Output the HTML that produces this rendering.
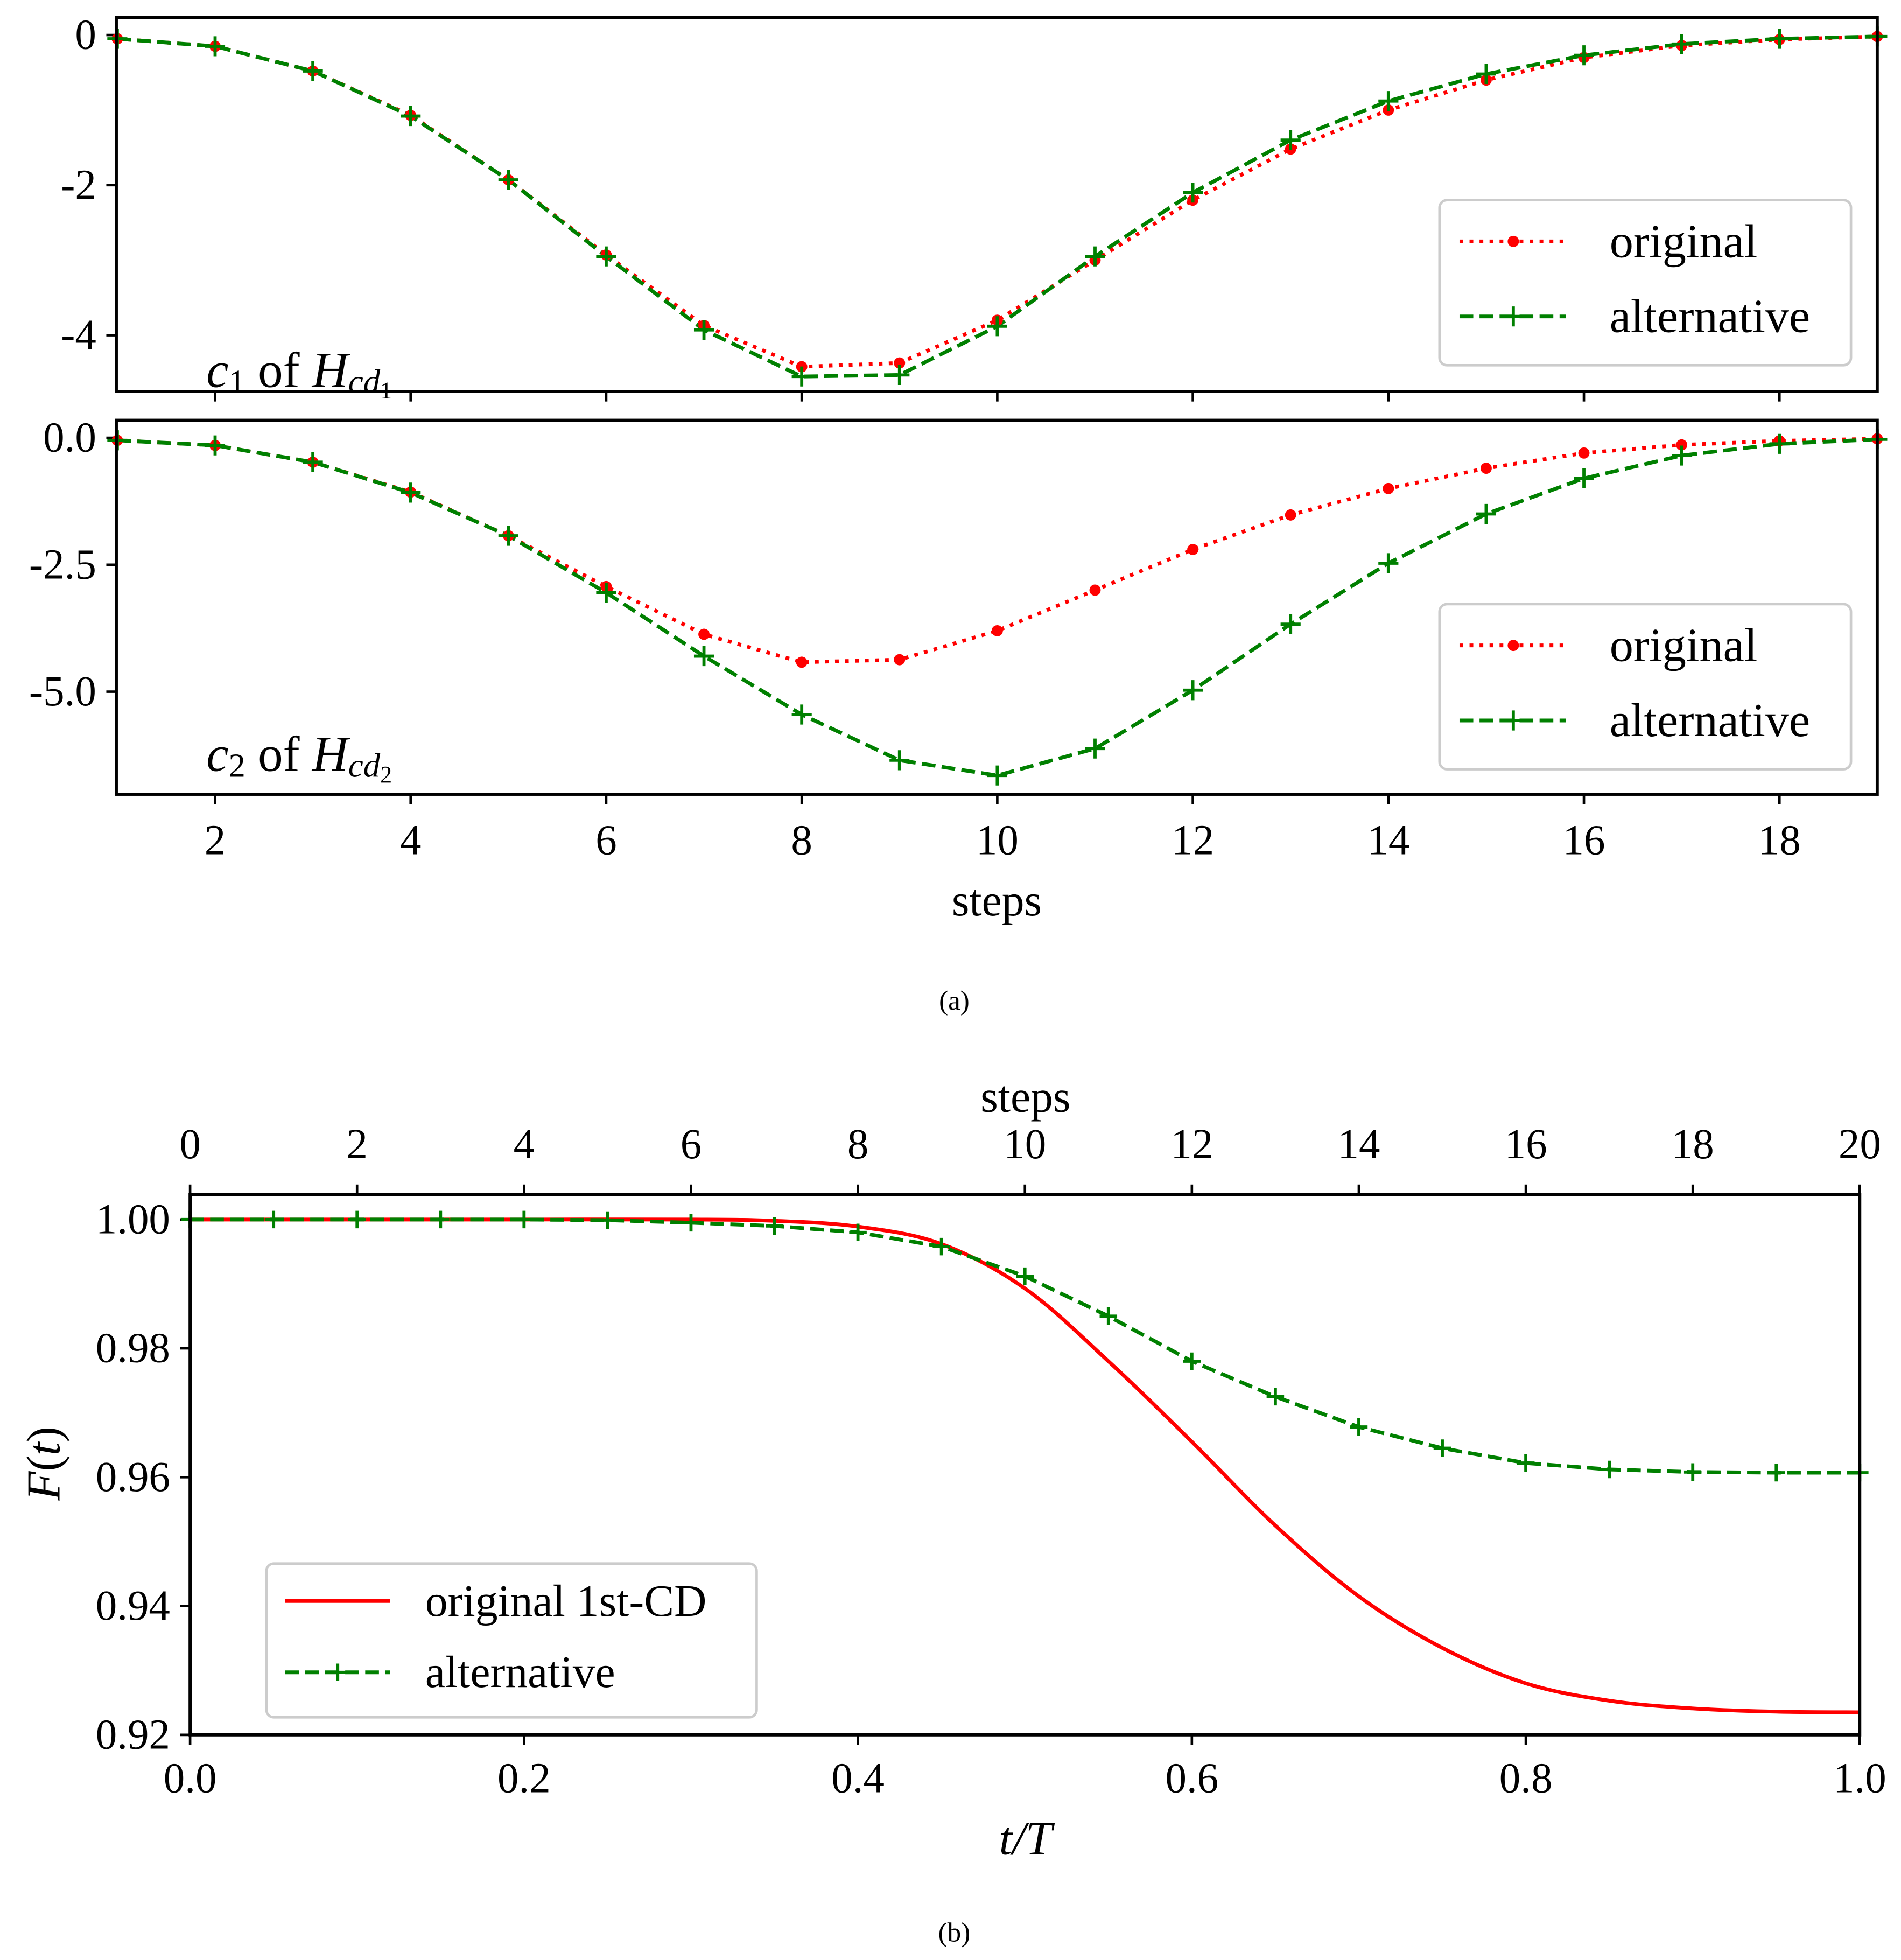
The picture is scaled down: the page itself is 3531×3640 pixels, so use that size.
<!DOCTYPE html>
<html><head><meta charset="utf-8"><style>html,body{margin:0;padding:0;background:#fff}svg{display:block}text{font-family:"Liberation Serif",serif;fill:#000}</style></head>
<body>
<svg id="chart" xmlns="http://www.w3.org/2000/svg" width="3531" height="3640" viewBox="0 0 1520 1567" preserveAspectRatio="none">
<g id="g"></g>
</svg>
<script>
const steps=[1,2,3,4,5,6,7,8,9,10,11,12,13,14,15,16,17,18,19];
const orig=[-0.05,-0.15,-0.48,-1.07,-1.93,-2.93,-3.87,-4.42,-4.37,-3.8,-3.0,-2.2,-1.52,-1.0,-0.6,-0.3,-0.14,-0.06,-0.02];
const alt1=[-0.05,-0.15,-0.48,-1.08,-1.93,-2.95,-3.93,-4.55,-4.53,-3.88,-2.95,-2.1,-1.4,-0.88,-0.52,-0.27,-0.12,-0.05,-0.02];
const alt2=[-0.05,-0.15,-0.48,-1.08,-1.93,-3.05,-4.3,-5.45,-6.35,-6.65,-6.12,-4.97,-3.67,-2.47,-1.5,-0.8,-0.35,-0.12,-0.03];
const xTicksA=[2,4,6,8,10,12,14,16,18];
const yTicksA1=[0,-2,-4];const yLabA1=["0","-2","-4"];
const yTicksA2=[0,-2.5,-5];const yLabA2=["0.0","-2.5","-5.0"];
const tRed=[0,0.1,0.2,0.3,0.35,0.4,0.45,0.5,0.55,0.6,0.65,0.7,0.75,0.8,0.85,0.9,0.95,1.0];
const fRed=[1,1,1,1,0.9998,0.9989,0.9962,0.9893,0.978,0.9655,0.9525,0.9415,0.9335,0.928,0.9253,0.9241,0.9236,0.9235];
const tGreen=[0,0.05,0.1,0.15,0.2,0.25,0.3,0.35,0.4,0.45,0.5,0.55,0.6,0.65,0.7,0.75,0.8,0.85,0.9,0.95,1.0];
const fGreen=[1,1,1,1,1,0.9999,0.9995,0.999,0.998,0.9958,0.9912,0.985,0.978,0.9725,0.9678,0.9645,0.9622,0.9612,0.9608,0.9607,0.9607];
const xTicksB=[0,0.2,0.4,0.6,0.8,1.0];const xLabB=["0.0","0.2","0.4","0.6","0.8","1.0"];
const topTicksB=[0,2,4,6,8,10,12,14,16,18,20];
const yTicksB=[1.0,0.98,0.96,0.94,0.92];const yLabB=["1.00","0.98","0.96","0.94","0.92"];

const NS="http://www.w3.org/2000/svg";const G=document.getElementById('g');
function el(t,a,p){const e=document.createElementNS(NS,t);for(const k in a)e.setAttribute(k,a[k]);(p||G).appendChild(e);return e;}
function txt(s,x,y,size,anchor,name,extra){const e=el('text',Object.assign({x:x,y:y,'font-size':size,'text-anchor':anchor||'middle','dominant-baseline':'central'},extra||{}));e.textContent=s;return e;}
function lin(d0,d1,r0,r1){return v=>r0+(v-d0)/(d1-d0)*(r1-r0);}
function line(xs,ys,sx,sy,color,dash,name){const p=xs.map((x,i)=>sx(x).toFixed(2)+','+sy(ys[i]).toFixed(2)).join(' ');const e=el('polyline',{points:p,fill:'none',stroke:color,'stroke-width':3,'stroke-dasharray':dash||'none'});return e;}
function smooth(xs,ys,sx,sy,color,name){const P=xs.map((x,i)=>[sx(x),sy(ys[i])]);let d='M'+P[0][0]+','+P[0][1];
 for(let i=0;i<P.length-1;i++){const p0=P[Math.max(0,i-1)],p1=P[i],p2=P[i+1],p3=P[Math.min(P.length-1,i+2)];
  const c1=[p1[0]+(p2[0]-p0[0])/6,p1[1]+(p2[1]-p0[1])/6],c2=[p2[0]-(p3[0]-p1[0])/6,p2[1]-(p3[1]-p1[1])/6];
  d+=`C${c1[0].toFixed(2)},${c1[1].toFixed(2)} ${c2[0].toFixed(2)},${c2[1].toFixed(2)} ${p2[0].toFixed(2)},${p2[1].toFixed(2)}`;}
 const e=el('path',{d:d,fill:'none',stroke:color,'stroke-width':3});return e;}
function dots(xs,ys,sx,sy,name){xs.forEach((x,i)=>{const c=el('circle',{cx:sx(x),cy:sy(ys[i]),r:4.5,fill:'#ff0000'});});}
function plus(xs,ys,sx,sy,name,s){xs.forEach((x,i)=>{const X=sx(x),Y=sy(ys[i]);const p=el('path',{d:`M${X-s},${Y}H${X+s}M${X},${Y-s}V${Y+s}`,stroke:'#008000','stroke-width':2.5});});}
function legendA(y0,name){const g=el('g',{});
 el('rect',{x:1151,y:y0,width:329,height:132,rx:6,fill:'#fff',stroke:'#ccc','stroke-width':2},g);
 el('line',{x1:1167,y1:y0+33,x2:1252,y2:y0+33,stroke:'#ff0000','stroke-width':3,'stroke-dasharray':'3,5'},g);
 el('circle',{cx:1210,cy:y0+33,r:4.5,fill:'#ff0000'},g);
 el('line',{x1:1167,y1:y0+93,x2:1252,y2:y0+93,stroke:'#008000','stroke-width':3,'stroke-dasharray':'11,5'},g);
 el('path',{d:`M1202,${y0+93}H1218M1210,${y0+85}V${y0+101}`,stroke:'#008000','stroke-width':2.5},g);
 const a=txt('original',1287,y0+33,38,'start','legend-original');g.appendChild(a);
 const b=txt('alternative',1287,y0+93,38,'start','legend-alternative');g.appendChild(b);}

const sxA=lin(1,19,93.8,1501);
const sy1=lin(0,-4,28,268);
const sy2=lin(0,-5,350,553);
[[sy1,14,313,yTicksA1,yLabA1,alt1,'a1'],[sy2,336,635,yTicksA2,yLabA2,alt2,'a2']].forEach(([sy,top,bot,yt,yl,alt,id])=>{
 const clip=el('clipPath',{id:'c'+id});el('rect',{x:93,y:top,width:1408,height:bot-top},clip);
 xTicksA.forEach(t=>el('line',{x1:sxA(t),y1:bot,x2:sxA(t),y2:bot+8,stroke:'#000','stroke-width':2}));
 yt.forEach((t,i)=>{el('line',{x1:85,y1:sy(t),x2:93,y2:sy(t),stroke:'#000','stroke-width':2});txt(yl[i],77,sy(t),34,'end','y-tick-label-'+id);});
 const g=el('g',{'clip-path':`url(#c${id})`});
 const l1=line(steps,orig,sxA,sy,'#ff0000','3,5','original-line-'+id);g.appendChild(l1);
 const l2=line(steps,alt,sxA,sy,'#008000','11,5','alternative-line-'+id);g.appendChild(l2);
 dots(steps,orig,sxA,sy,'original-point-'+id);plus(steps,alt,sxA,sy,'alternative-point-'+id,8);
 el('rect',{x:93,y:top,width:1408,height:bot-top,fill:'none',stroke:'#000','stroke-width':2.5});
});
legendA(160,'legend-a1');legendA(483,'legend-a2');
(function(){const e=el('text',{x:165,y:296,'font-size':40,'dominant-baseline':'central'});
e.innerHTML='<tspan font-style="italic">c</tspan><tspan font-size="27" dy="9">1</tspan><tspan dy="-9"> of </tspan><tspan font-style="italic">H</tspan><tspan font-style="italic" font-size="27" dy="9">cd</tspan><tspan font-size="19" dy="7">1</tspan>';})();
(function(){const e=el('text',{x:165,y:603,'font-size':40,'dominant-baseline':'central'});
e.innerHTML='<tspan font-style="italic">c</tspan><tspan font-size="27" dy="9">2</tspan><tspan dy="-9"> of </tspan><tspan font-style="italic">H</tspan><tspan font-style="italic" font-size="27" dy="9">cd</tspan><tspan font-size="19" dy="7">2</tspan>';})();
xTicksA.forEach(t=>txt(String(t),sxA(t),672,34,'middle','x-tick-label-a'));
txt('steps',797,720,36,'middle','x-axis-title-a');
txt('(a)',763,800,22,'middle','caption-a');

const sxB=lin(0,1,152,1487);const sT=lin(0,20,152,1487);const syB=lin(1.0,0.92,975,1387);
xTicksB.forEach((t,i)=>{el('line',{x1:sxB(t),y1:1387,x2:sxB(t),y2:1395,stroke:'#000','stroke-width':2});txt(xLabB[i],sxB(t),1422,34,'middle','x-tick-label-b');});
topTicksB.forEach(t=>{el('line',{x1:sT(t),y1:955,x2:sT(t),y2:947,stroke:'#000','stroke-width':2});txt(String(t),sT(t),915,34,'middle','top-tick-label-b');});
yTicksB.forEach((t,i)=>{el('line',{x1:144,y1:syB(t),x2:152,y2:syB(t),stroke:'#000','stroke-width':2});txt(yLabB[i],136,syB(t),34,'end','y-tick-label-b');});
const clipB=el('clipPath',{id:'cb'});el('rect',{x:152,y:955,width:1335,height:432},clipB);
const gb=el('g',{'clip-path':'url(#cb)'});
gb.appendChild(smooth(tRed,fRed,sxB,syB,'#ff0000','original-1st-cd-line'));
gb.appendChild(line(tGreen,fGreen,sxB,syB,'#008000','11,5','alternative-line-b'));
plus(tGreen,fGreen,sxB,syB,'alternative-point-b',7);
el('rect',{x:152,y:955,width:1335,height:432,fill:'none',stroke:'#000','stroke-width':2.5});
(function(){const g=el('g',{});
 el('rect',{x:213,y:1250,width:392,height:123,rx:6,fill:'#fff',stroke:'#ccc','stroke-width':2},g);
 el('line',{x1:228,y1:1280,x2:312,y2:1280,stroke:'#ff0000','stroke-width':3},g);
 el('line',{x1:228,y1:1337,x2:312,y2:1337,stroke:'#008000','stroke-width':3,'stroke-dasharray':'11,5'},g);
 el('path',{d:'M263,1337H277M270,1330V1344',stroke:'#008000','stroke-width':2.5},g);
 g.appendChild(txt('original 1st-CD',340,1280,36,'start','legend-original-1st-cd'));
 g.appendChild(txt('alternative',340,1337,36,'start','legend-alternative-b'));})();
txt('steps',820,877,36,'middle','top-axis-title-b');
(function(){const e=el('text',{x:820,y:1470,'font-size':38,'text-anchor':'middle','dominant-baseline':'central','font-style':'italic'});e.textContent='t/T';})();
(function(){const e=el('text',{x:35,y:1170,'font-size':38,'text-anchor':'middle','dominant-baseline':'central',transform:'rotate(-90 35 1170)'});e.innerHTML='<tspan font-style="italic">F</tspan>(<tspan font-style="italic">t</tspan>)';})();
txt('(b)',763,1545,22,'middle','caption-b');
</script>
</body></html>
